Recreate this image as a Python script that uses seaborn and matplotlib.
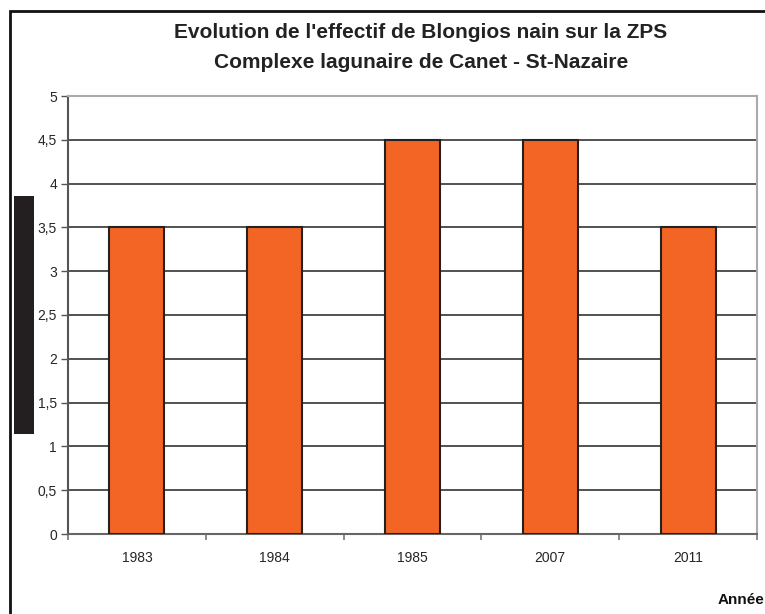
import matplotlib
matplotlib.use("Agg")
import matplotlib.pyplot as plt
import seaborn as sns
import pandas as pd
from matplotlib.patches import Rectangle
from matplotlib.ticker import FuncFormatter, FixedLocator

annees = ["1983", "1984", "1985", "2007", "2011"]
effectifs = [3.5, 3.5, 4.5, 4.5, 3.5]

sns.set_style("white")
plt.rcParams['font.family'] = ['Liberation Sans', 'DejaVu Sans']

W, H = 765, 614
fig = plt.figure(figsize=(W / 100, H / 100), dpi=100)

# axes position in pixels
left, right, top, bottom = 68, 757, 96, 534
ax = fig.add_axes([left / W, 1 - bottom / H, (right - left) / W, (bottom - top) / H])

df = pd.DataFrame({"annee": annees, "effectif": effectifs})
sns.barplot(data=df, x="annee", y="effectif", color="#F26524", width=0.4,
            edgecolor="#222222", linewidth=1.5, saturation=1, ax=ax, zorder=3)

ax.set_xlim(-0.5, len(annees) - 0.5)
ax.set_ylim(0, 5)
ax.set_yticks([i * 0.5 for i in range(11)])
ax.yaxis.set_major_formatter(FuncFormatter(lambda v, p: f"{v:g}".replace(".", ",")))
ax.grid(axis="y", color="#222222", linewidth=1.1, zorder=0)
ax.set_axisbelow(True)
ax.set_xlabel("")
ax.set_ylabel("")

for s in ["top", "right"]:
    ax.spines[s].set_color("#aaaaaa")
    ax.spines[s].set_linewidth(1.5)
ax.spines["left"].set_color("#555555")
ax.spines["left"].set_linewidth(1.5)
ax.spines["bottom"].set_color("#666666")
ax.spines["bottom"].set_linewidth(1.5)

ax.tick_params(axis="y", length=5, width=1, color="#555555", direction="out",
               labelsize=10, pad=3, left=True)
ax.tick_params(axis="x", which="major", length=0, labelsize=10, pad=12)
ax.xaxis.set_minor_locator(FixedLocator([i - 0.5 for i in range(len(annees) + 1)]))
ax.tick_params(axis="x", which="minor", length=4, width=1.2, color="#777777",
               direction="out", bottom=True)

fig.text(421 / W, 1 - 33 / H, "Evolution de l'effectif de Blongios nain sur la ZPS",
         ha="center", va="center", fontsize=15, fontweight="bold", color="#222222")
fig.text(421 / W, 1 - 63 / H, "Complexe lagunaire de Canet - St-Nazaire",
         ha="center", va="center", fontsize=15, fontweight="bold", color="#222222")
fig.text(718 / W, 1 - 600 / H, "Année", ha="left", va="center",
         fontsize=11, fontweight="bold", color="#111111")

# outer chart frame
fig.patches.append(Rectangle((10 / W, -0.05), 1.0, 1 - 11 / H + 0.05,
                             transform=fig.transFigure, fill=False,
                             edgecolor="#111111", linewidth=2))
# masked y-axis title
fig.patches.append(Rectangle((14 / W, 1 - 434 / H), 20 / W, 238 / H,
                             transform=fig.transFigure, facecolor="#231f20",
                             edgecolor="none"))

fig.savefig("out.png", dpi=100)
